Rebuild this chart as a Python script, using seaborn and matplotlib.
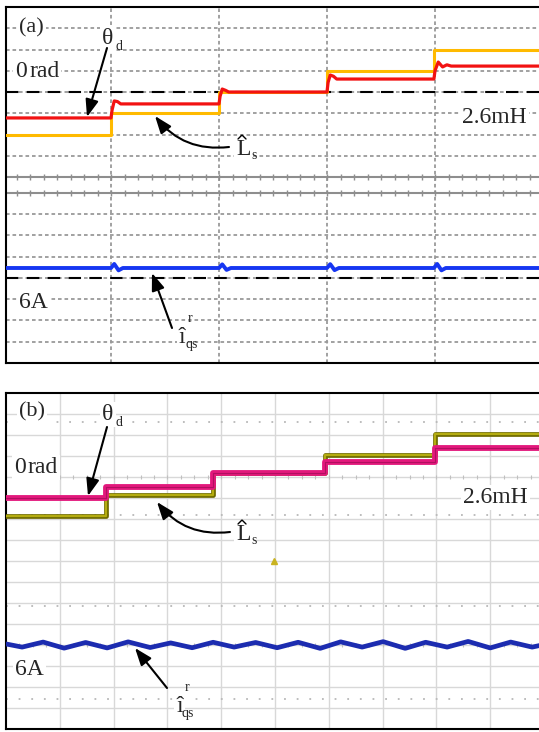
import matplotlib
matplotlib.use("Agg")
import matplotlib.pyplot as plt
import pandas as pd
import seaborn as sns

W, H = 539, 732

# ---------------------------------------------------------------------------
# (a) simulation  -- time in divisions (dotted grid at 1..4),
# values in divisions relative to each channel's dashed reference line
# ---------------------------------------------------------------------------
A_LS_T = [0.0, 1.0, 1.0, 2.0, 2.0, 3.0, 3.0, 3.99, 3.99, 5.0]
A_LS_V = [-2.0, -2.0, -1.0, -1.0, 0.0, 0.0, 1.0, 1.0, 2.0, 2.0]

A_TH_T = [0.0, 1.0, 1.01, 1.03, 1.06, 1.09,
          2.0, 2.01, 2.03, 2.06, 2.09,
          3.0, 3.01, 3.03, 3.06, 3.09,
          3.99, 4.0, 4.03, 4.07, 4.11, 4.15, 5.0]
A_TH_V = [-1.22, -1.22, -0.85, -0.42, -0.45, -0.56,
          -0.56, -0.2, 0.14, 0.08, 0.0,
          0.0, 0.45, 0.8, 0.74, 0.61,
          0.61, 1.0, 1.41, 1.18, 1.28, 1.22, 1.22]

A_IQ_T = [0.0, 1.0, 1.03, 1.07, 1.11,
          2.0, 2.03, 2.07, 2.11,
          3.0, 3.03, 3.07, 3.11,
          3.99, 4.02, 4.06, 4.10, 5.0]
A_IQ_V = [0.47, 0.47, 0.66, 0.36, 0.47,
          0.47, 0.64, 0.38, 0.47,
          0.47, 0.65, 0.37, 0.47,
          0.47, 0.66, 0.36, 0.47, 0.47]

# ---------------------------------------------------------------------------
# (b) experiment -- time in divisions (grid every 1), values in divisions
# ---------------------------------------------------------------------------
B_LS_T = [0.0, 1.86, 1.86, 3.85, 3.85, 5.93, 5.93, 7.97, 7.97, 10.0]
B_LS_V = [-1.86, -1.86, -0.86, -0.86, 0.17, 0.17, 1.05, 1.05, 2.05, 2.05]

B_TH_T = [0.0, 1.86, 1.86, 3.85, 3.85, 5.93, 5.93, 7.97, 7.97, 10.0]
B_TH_V = [-1.0, -1.0, -0.48, -0.48, 0.19, 0.19, 0.71, 0.71, 1.38, 1.38]

B_IQ_T = [0.0, 0.30, 0.69, 1.08, 1.48, 1.88, 2.27, 2.68, 3.06, 3.46, 3.85,
          4.24, 4.64, 5.04, 5.43, 5.84, 6.22, 6.62, 7.01, 7.42, 7.80, 8.20,
          8.59, 9.00, 9.38, 9.78, 10.0]
B_IQ_V = [0.05, -0.10, 0.14, -0.15, 0.12, -0.14, 0.15, -0.12, 0.10, -0.13, 0.13,
          -0.10, 0.12, -0.13, 0.13, -0.16, 0.15, -0.10, 0.16, -0.16, 0.13, -0.10,
          0.17, -0.14, 0.14, -0.10, 0.02]

RED, AMBER, BLUE_A = "#f21212", "#ffba00", "#1636f2"
MAGENTA, OLIVE, OLIVE_DK, BLUE_B = "#e2187c", "#b4ac10", "#6e6a00", "#1c2cb0"
DOT = "#9a9a9a"
GRID_B = "#d8d8d8"


def px_rect(x0, y0, x1, y1):
    return [x0 / W, 1 - y1 / H, (x1 - x0) / W, (y1 - y0) / H]


def trace(ax, t, v, offset, color, lw, z):
    df = pd.DataFrame({"t": t, "v": [val + offset for val in v]})
    sns.lineplot(data=df, x="t", y="v", sort=False, estimator=None,
                 color=color, lw=lw, ax=ax, legend=False, zorder=z)


sns.set_style("white")
plt.rcParams["font.family"] = ["Liberation Serif", "DejaVu Serif"]

fig = plt.figure(figsize=(W / 100, H / 100), dpi=100)

# ----------------------------- panel (a) -----------------------------------
ax_a = fig.add_axes(px_rect(6, 7, 539, 363))
ax_a.set_xlim((6 - 3) / 108, (539 - 3) / 108)
ax_a.set_ylim(0, 16.75)
TOP_REF, BOT_REF = 12.75, 4.0

dotted = dict(color=DOT, lw=1.3, ls=(0, (2, 1.6)), zorder=1)
for k in range(-3, 4):
    ax_a.axhline(TOP_REF + k, **dotted)
    ax_a.axhline(BOT_REF + k, **dotted)
for xv in [1, 2, 3, 4]:
    ax_a.axvline(xv, **dotted)
tick_x = [i * 0.125 for i in range(1, 40)]
for yv in [8.75, 8.0]:
    ax_a.axhline(yv, color="#8e8e8e", lw=1.5, zorder=1)
    ax_a.plot(tick_x, [yv] * len(tick_x), ls="none", marker="|", ms=4,
              mew=1, color="#8e8e8e", zorder=1)
for yv in [TOP_REF, BOT_REF]:
    ax_a.axhline(yv, color="black", lw=1.5, ls=(0, (6, 4)), zorder=2)

trace(ax_a, A_LS_T, A_LS_V, TOP_REF, AMBER, 2.2, 3)
trace(ax_a, A_TH_T, A_TH_V, TOP_REF, RED, 2.3, 4)
trace(ax_a, A_IQ_T, A_IQ_V, BOT_REF, BLUE_A, 2.8, 4)

# ----------------------------- panel (b) -----------------------------------
ax_b = fig.add_axes(px_rect(6, 393, 539, 729))
ax_b.set_xlim(0, (539 - 6) / 53.8)
ax_b.set_ylim(0, 16)
B_TOP, B_BOT = 12.0, 4.0

for xv in range(1, 10):
    ax_b.axvline(xv, color=GRID_B, lw=1.0, zorder=1)
for yv in range(1, 16):
    ax_b.axhline(yv, color=GRID_B, lw=1.0, zorder=1)
for yv in [14.62, 10.19, 5.86, 1.43]:
    ax_b.axhline(yv, color="#b8b8b8", lw=1.3, ls=(0, (1, 6)), zorder=1)
tick_xb = [i * 0.25 for i in range(1, 40)]
for yv in [B_TOP, B_BOT]:
    ax_b.plot(tick_xb, [yv] * len(tick_xb), ls="none", marker="|", ms=3,
              mew=0.8, color="#c0c0c0", zorder=1)
ax_b.plot([(274 - 6) / 53.8], [8.0], marker="^", ms=4, color="#c9b320",
          ls="none", zorder=2)

trace(ax_b, B_LS_T, B_LS_V, B_TOP, OLIVE_DK, 3.4, 3)
trace(ax_b, B_LS_T, B_LS_V, B_TOP, OLIVE, 1.6, 3)
trace(ax_b, B_TH_T, B_TH_V, B_TOP, MAGENTA, 4.2, 4)
trace(ax_b, B_TH_T, B_TH_V, B_TOP, "#b01060", 0.8, 4)
trace(ax_b, B_IQ_T, B_IQ_V, B_BOT, BLUE_B, 3.4, 4)

for ax in (ax_a, ax_b):
    ax.set_xlabel("")
    ax.set_ylabel("")
    ax.set_xticks([])
    ax.set_yticks([])
    for side in ("left", "top", "bottom"):
        ax.spines[side].set_visible(True)
        ax.spines[side].set_color("black")
        ax.spines[side].set_linewidth(1.5)
    ax.spines["right"].set_visible(False)

ax_a.set_xticks(tick_x)
ax_a.tick_params(axis="x", direction="in", length=3, width=1, color="#888888",
                 labelbottom=False)

# ----------------------------- labels ---------------------------------------
ov = fig.add_axes([0, 0, 1, 1])
ov.set_xlim(0, W)
ov.set_ylim(H, 0)
ov.axis("off")

white = dict(facecolor="white", edgecolor="none", pad=1.5)
BIG, SMALL = 17, 10


def label(x, y, s, size=BIG, box=True, ha="left", va="baseline"):
    ov.text(x, y, s, fontsize=size, ha=ha, va=va, zorder=6,
            bbox=white if box else None)


def arrow(start, tip, rad=0.0):
    ov.annotate("", xy=tip, xytext=start, zorder=7,
                arrowprops=dict(arrowstyle="-|>,head_length=0.75,head_width=0.28",
                                mutation_scale=14, lw=1.5, color="black",
                                shrinkA=0, shrinkB=0,
                                connectionstyle=f"arc3,rad={rad}"))


def panel_labels(tag, dy_tag, th, zero, lsh, mh, six, iq, arrows):
    label(19, dy_tag, tag, size=16)
    label(th[0], th[1], "θ")
    label(th[0] + 14, th[1] + 6, "d", size=SMALL, box=False)
    label(zero[0], zero[1], "0")
    label(zero[0] + 14, zero[1], "rad")
    label(lsh[0], lsh[1], "L")
    # circumflex over the L drawn as a small stroke
    ov.plot([lsh[0] + 2, lsh[0] + 6, lsh[0] + 10],
            [lsh[1] - 16, lsh[1] - 20, lsh[1] - 16],
            color="black", lw=1.0, zorder=7, solid_joinstyle="miter")
    label(lsh[0] + 15, lsh[1] + 4, "s", size=SMALL, box=False)
    label(mh[0], mh[1], "2.6mH")
    label(six[0], six[1], "6A")
    label(iq[0], iq[1], "î")
    label(iq[0] + 9, iq[1] - 21, "r", size=SMALL, box=False)
    label(iq[0] + 6, iq[1] + 5, "qs", size=SMALL, box=False)
    arrow(*arrows[0])
    arrow(*arrows[1], rad=-0.28)
    arrow(*arrows[2])


panel_labels("(a)", 32, (102, 44), (15, 77), (236, 155), (462, 123), (19, 308),
             (179, 343),
             [((107, 48), (87, 117)), ((229, 147), (155, 116)),
              ((172, 328), (152, 273))])
panel_labels("(b)", 416, (102, 420), (14, 473), (236, 540), (463, 503), (15, 675),
             (176, 712),
             [((107, 427), (88, 496)), ((230, 532), (157, 502)),
              ((167, 688), (135, 648))])

fig.savefig("out.png", dpi=100)
